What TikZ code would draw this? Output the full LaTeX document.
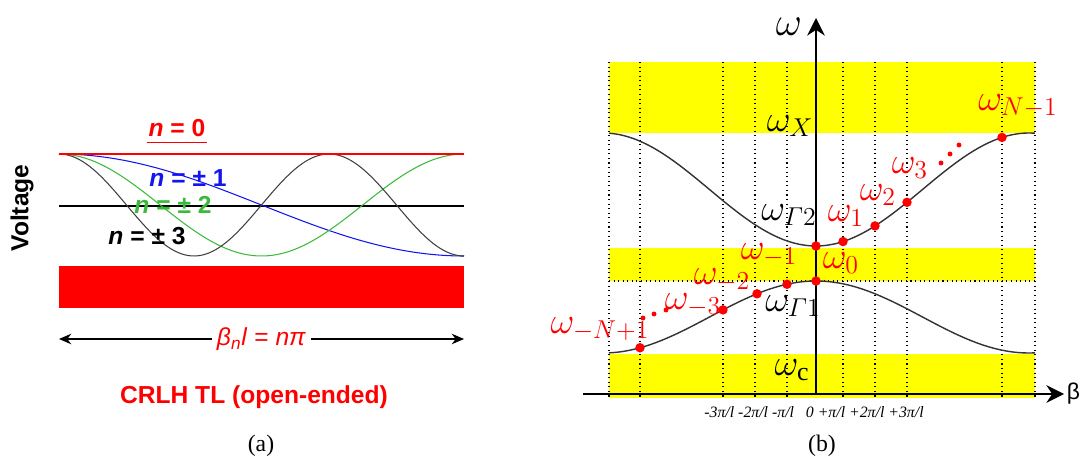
\RequirePackage{fix-cm}
\documentclass[tikz,border=0pt]{standalone}
\usepackage{amsmath}
\usepackage{fontspec}
\setmainfont{Liberation Serif}
\setsansfont{Liberation Sans}
\usetikzlibrary{arrows.meta,positioning}

\definecolor{bandyellow}{RGB}{255,255,0}
\definecolor{modegreen}{RGB}{60,185,60}
\definecolor{modeblue}{RGB}{20,20,240}

\begin{document}
\begin{tikzpicture}[
  x=0.02cm, y=-0.02cm, >=Stealth,
  lbl/.style={font=\sffamily\bfseries\fontsize{14}{16}\selectfont, inner sep=1pt},
  om/.style={font=\fontsize{21}{23}\selectfont, inner sep=0pt},
  figcap/.style={font=\fontsize{13.5}{15}\selectfont, inner sep=0pt},
  band/.style={fill=bandyellow, draw=none},
  gridline/.style={dotted, line width=0.6pt},
  curve/.style={line width=0.6pt, smooth},
  dot/.style={circle, fill=red, inner sep=0pt, minimum size=5.4pt},
  edot/.style={circle, fill=red, inner sep=0pt, minimum size=2.8pt},
  axis/.style={line width=1.1pt, -{Stealth[length=10pt,width=10pt]}}
]
\useasboundingbox (0,0) rectangle (1083,459);

% ---------- (a) VOLTAGE MODES ----------
\draw[line width=0.7pt] (59,206) -- (464,206);
\draw[curve, modeblue] plot[domain=59:464, samples=100] (\x, {205-51*cos((\x-59)/405*180)});
\draw[curve, modegreen] plot[domain=59:464, samples=100] (\x, {205-51*cos((\x-59)/405*360)});
\draw[curve, black!75] plot[domain=59:464, samples=120] (\x, {205-51*cos((\x-59)/405*540)});
\draw[red, line width=0.7pt] (59,154) -- (464,154);

\node[lbl, text=red] (n0) at (177,128) {\textit{n} = 0};
\draw[red, line width=0.8pt] ([yshift=-2pt]n0.south west) -- ([yshift=-2pt]n0.south east);
\node[lbl, text=modeblue] (n1) at (188,178) {\textit{n} = ± 1};
\node[lbl, text=modegreen] (n2) at (173,205) {\textit{n} = ± 2};
\node[lbl] (n3) at (147,236) {\textit{n} = ± 3};
\node[lbl, rotate=90] (volt) at (22,208) {Voltage};

\fill[red] (59,266) rectangle (464,308);

\coordinate (lenL) at (59,339);
\coordinate (lenR) at (464,339);
\draw[<->, line width=0.7pt, >={Stealth[length=7pt,width=6pt]}] (lenL) -- node[fill=white, inner sep=3pt,
  font=\sffamily\fontsize{14}{16}\selectfont, text=red] (blen) {\textit{β}\textsubscript{\textit{n}}\textit{l} = \textit{nπ}} (lenR);
\node[lbl, text=red] (crlh) at (254,397) {CRLH TL (open-ended)};
\node[figcap] (capa) at (261,446) {(a)};

% ---------- (b) DISPERSION DIAGRAM ----------
\fill[band] (609,62) rectangle (1035,133);
\fill[band] (609,248) rectangle (1035,281);
\fill[band] (609,354) rectangle (1035,398);

\foreach \gx in {609,640,723,755,787,843,875,907,1002,1035}
  \draw[gridline] (\gx,62) -- (\gx,398);
\draw[gridline] (609,281) -- (1035,281);

\draw[curve, black!80, line width=0.8pt] plot[domain=609:1035, samples=120] (\x, {189.5+56.5*cos((\x-816)/213*180)});
\draw[curve, black!80, line width=0.8pt] plot[domain=609:1035, samples=120] (\x, {317-36*cos((\x-816)/213*180)});

\coordinate (orig) at (816,394);
\coordinate (wtip) at (816,18);
\coordinate (bstart) at (583,394);
\coordinate (btip) at (1064,394);
\draw[axis] (orig) -- (wtip);
\draw[axis] (bstart) -- (btip);
\node[om, font=\fontsize{23}{25}\selectfont] (wlab) at (789,27) {$\omega$};
\node[font=\sffamily\fontsize{13}{15}\selectfont, inner sep=0pt, right=1.5pt of btip] (blab) {β};

% resonance points
\foreach \bx [count=\i] in {816,843,875,907,1002}
  \node[dot] (up\i) at (\bx,{189.5+56.5*cos((\bx-816)/213*180)}) {};
\foreach \bx [count=\i] in {816,787,757,723,640}
  \node[dot] (lo\i) at (\bx,{317-36*cos((\bx-816)/213*180)}) {};
\foreach \px/\py [count=\i] in {941/163,950/154,959/145}
  \node[edot] (eu\i) at (\px,\py) {};
\foreach \px/\py [count=\i] in {643/318,654/314,666/310}
  \node[edot] (el\i) at (\px,\py) {};

% labels
\node[om] (wx) at (790,126) {$\omega_X$};
\node[om] (wg2) at (789,215) {$\omega_{\varGamma 2}$};
\node[om] (wg1) at (793,306) {$\omega_{\varGamma 1}$};
\node[om] (wc) at (792,370) {$\omega_{\mathrm{c}}$};
\node[om, text=red] (wNm) at (1018,106) {$\omega_{N-1}$};
\node[om, text=red] (w3) at (910,168) {$\omega_3$};
\node[om, text=red] (w2) at (878,195) {$\omega_2$};
\node[om, text=red] (w1) at (846,216) {$\omega_1$};
\node[om, text=red] (w0) at (841,263) {$\omega_0$};
\node[om, text=red] (wm1) at (769,255) {$\omega_{-1}$};
\node[om, text=red] (wm2) at (722,280) {$\omega_{-2}$};
\node[om, text=red] (wm3) at (693,305) {$\omega_{-3}$};
\node[om, text=red] (wmN) at (600,329) {$\omega_{-N+1}$};

\node[font=\fontsize{9}{11}\selectfont\itshape] (ticks) at (814,412)
  {-3π/l -2π/l -π/l \ \ 0 +π/l +2π/l +3π/l};
\node[figcap] (capb) at (822,446) {(b)};

\end{tikzpicture}
\end{document}
